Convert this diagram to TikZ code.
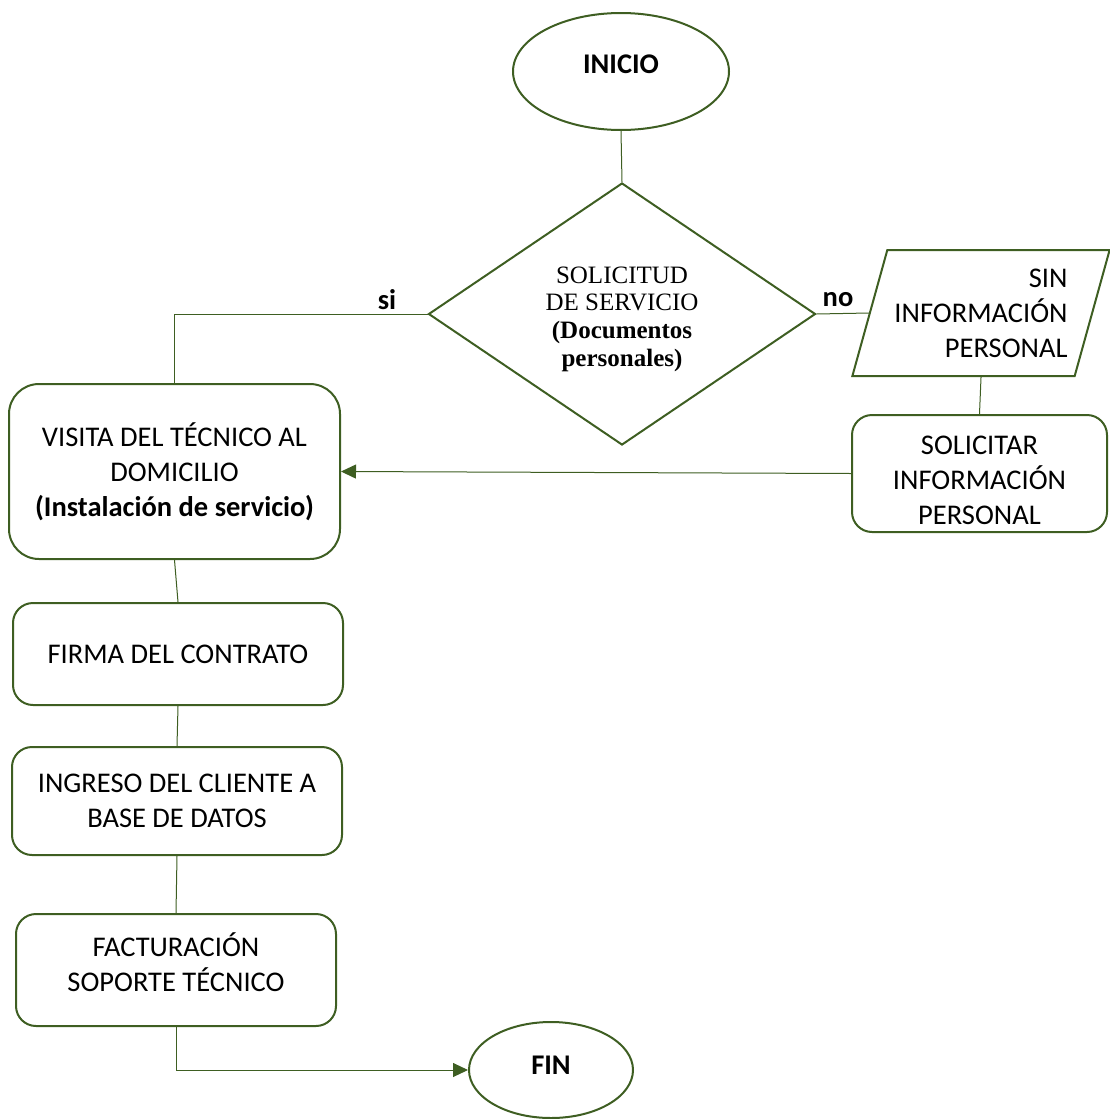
\documentclass[tikz,border=0pt]{standalone}
\usepackage{fontspec}
\setmainfont{Carlito}
\newfontfamily\romanfont{Liberation Serif}
\usetikzlibrary{arrows.meta,shapes.geometric}

\definecolor{verdeflujo}{RGB}{62,94,34}

\tikzset{
  forma/.style={draw=verdeflujo, line width=2pt, align=center, inner sep=0pt,
                font=\fontsize{28.5}{35}\selectfont},
  caja/.style={forma, rectangle, rounded corners=20pt},
  terminal/.style={forma, ellipse},
  enlace/.style={draw=verdeflujo, line width=1pt},
  flecha/.style={enlace, -{Triangle[length=15pt,width=14pt]}},
  rotulo/.style={font=\fontsize{28.5}{35}\selectfont\bfseries}
}

\begin{document}
\begin{tikzpicture}[x=1pt,y=-1pt]
            \useasboundingbox (0,0) rectangle (1110,1119);

            % terminales
            \node[terminal, minimum width=216pt, minimum height=117pt] (inicio) at (621,71.5)
                 {\raisebox{-1.7pt}[0pt][0pt]{\bfseries INICIO}};
            \node[terminal, minimum width=164pt, minimum height=96pt] (fin) at (551,1070)
                 {\raisebox{-4pt}[0pt][0pt]{\bfseries FIN}};

            % decision
            \node[forma, diamond, aspect=1.48, minimum width=387pt, minimum height=262pt,
                  font=\romanfont\fontsize{25}{27.7}\selectfont] (solicitud) at (622,314)
                 {\mbox{}\\[-1.2pt]SOLICITUD\\DE SERVICIO\\\textbf{(Documentos}\\\textbf{personales)}};

            % rama no
            \node[forma, trapezium, trapezium left angle=70, trapezium right angle=110,
                  trapezium stretches=true, minimum width=258pt, minimum height=126pt,
                  align=right] (sininfo) at (981,313) {SIN\\INFORMACIÓN\\PERSONAL};
            \node[caja, minimum width=255pt, minimum height=117pt] (solicitar) at (979.5,473.5)
                 {\mbox{}\\[-2.6pt]SOLICITAR\\INFORMACIÓN\\PERSONAL};

            % rama si
            \node[caja, rounded corners=30pt, minimum width=331pt, minimum height=175pt] (visita) at (174.5,471.5)
                 {VISITA DEL TÉCNICO AL\\DOMICILIO\\\textbf{(Instalación de servicio)}};
            \node[caja, minimum width=330pt, minimum height=102pt] (firma) at (178,654) {FIRMA DEL CONTRATO};
            \node[caja, minimum width=330pt, minimum height=108pt] (ingreso) at (177,801)
                 {INGRESO DEL CLIENTE A\\BASE DE DATOS};
            \node[caja, minimum width=320pt, minimum height=112pt] (factura) at (176,970)
                 {FACTURACIÓN\\SOPORTE TÉCNICO\\[-20pt]};

            \node[rotulo] (si) at (387,300) {si};
            \node[rotulo] (no) at (838,300) {no};

            \draw[enlace] (inicio.south) -- (solicitud.north);
            \draw[enlace] (solicitud.west) -| (visita.north);
            \draw[enlace] (solicitud.east) -- (sininfo.west);
            \draw[enlace] (sininfo.south) -- (solicitar.north);
            \draw[flecha] (solicitar.west) -- (visita.east);
            \draw[enlace] (visita.south) -- (firma.north);
            \draw[enlace] (firma.south) -- (ingreso.north);
            \draw[enlace] (ingreso.south) -- (factura.north);
            \draw[flecha] (factura.south) |- (fin.west);
        \end{tikzpicture}
\end{document}
